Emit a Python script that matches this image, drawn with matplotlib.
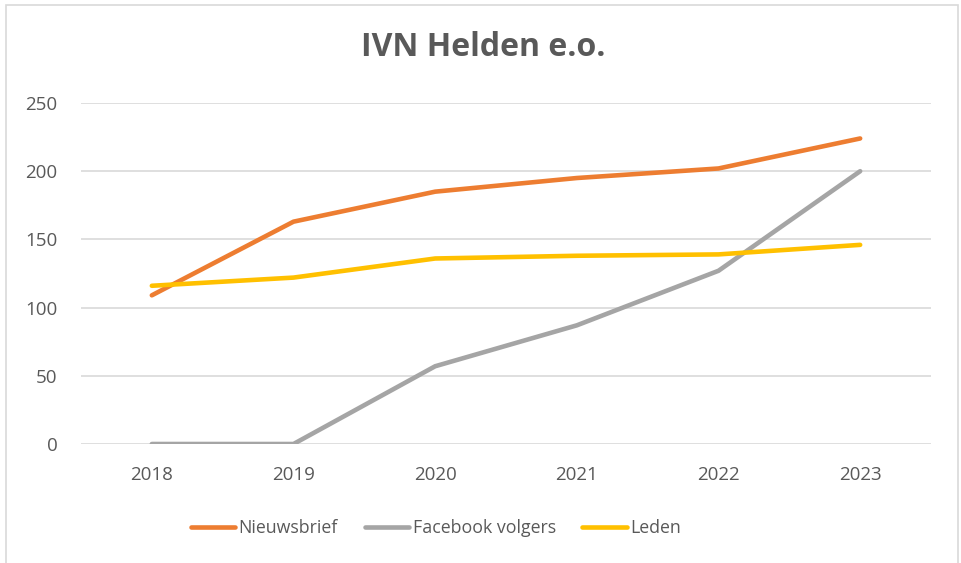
import matplotlib.pyplot as plt
from matplotlib.patches import Rectangle

# data
jaren = ['2018', '2019', '2020', '2021', '2022', '2023']
nieuwsbrief = [109, 163, 185, 195, 202, 224]
facebook = [0, 0, 57, 87, 127, 200]
leden = [116, 122, 136, 138, 139, 146]

plt.rcParams['font.family'] = ['Open Sans', 'DejaVu Sans']
tekst = '#595959'

fig = plt.figure(figsize=(9.62, 5.63), dpi=100)
ax = fig.add_axes([81 / 962, 1 - 444 / 563, 850 / 962, 341 / 563])

x = range(len(jaren))
ax.plot(x, nieuwsbrief, color='#ED7D31', lw=3.3, solid_capstyle='round', solid_joinstyle='round', label='Nieuwsbrief')
ax.plot(x, facebook, color='#A5A5A5', lw=3.3, solid_capstyle='round', solid_joinstyle='round', label='Facebook volgers')
ax.plot(x, leden, color='#FFC000', lw=3.3, solid_capstyle='round', solid_joinstyle='round', label='Leden')

ax.set_xlim(-0.5, len(jaren) - 0.5)
ax.set_ylim(0, 250)
ax.set_yticks(range(0, 251, 50))
ax.set_xticks(list(x))
ax.set_xticklabels(jaren)
ax.grid(axis='y', color='#D9D9D9', lw=1.2)
ax.set_axisbelow(True)
for s in ax.spines.values():
    s.set_visible(False)
ax.tick_params(length=0, labelsize=13.5, colors=tekst)
ax.tick_params(axis='y', pad=17)
ax.tick_params(axis='x', pad=16)

fig.text(0.502, 1 - 48 / 563, 'IVN Helden e.o.', ha='center', va='center',
         fontsize=23, fontweight='bold', color=tekst)

leg = fig.legend(loc='center', bbox_to_anchor=(436 / 962, 1 - 528 / 563), ncol=3, frameon=False,
                 fontsize=12.8, handlelength=2.5, handletextpad=0.2, columnspacing=1.5)
for t in leg.get_texts():
    t.set_color(tekst)

# rand van de grafiek
fig.patches.append(Rectangle((5.5 / 962, -0.05), 953 / 962, 1.05 - 4.5 / 563,
                             transform=fig.transFigure, fill=False, ec='#D9D9D9', lw=1.2))

fig.savefig('out.png', dpi=100)
